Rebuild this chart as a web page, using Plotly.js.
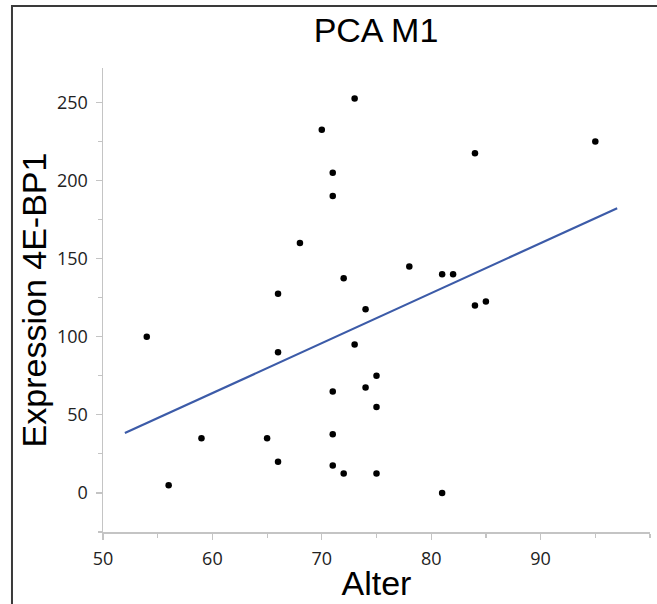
<!DOCTYPE html>
<html>
<head>
<meta charset="utf-8">
<script src="https://cdn.plot.ly/plotly-3.0.1.min.js"></script>
<style>html,body{margin:0;padding:0;background:#fff;}#chart{width:657px;height:604px;}</style>
</head>
<body>
<div id="chart"></div>
<script>
// Data
const alter = [54, 56, 59, 65, 66, 66, 66, 68, 70, 71, 71, 71, 71, 71, 72, 72, 73, 73, 74, 74, 75, 75, 75, 78, 81, 81, 82, 84, 84, 85, 95];
const expression = [100, 5, 35, 35, 127.5, 90, 20, 160, 232.5, 205, 190, 65, 37.5, 17.5, 137.5, 12.5, 252.5, 95, 117.5, 67.5, 75, 55, 12.5, 145, 140, 0, 140, 120, 217.5, 122.5, 225];
const fitX = [52, 97];
const fitY = [38.3, 182.3];
const xTicks = [50, 60, 70, 80, 90];
const yTicks = [0, 50, 100, 150, 200, 250];

const traces = [
  {x: fitX, y: fitY, type: 'scatter', mode: 'lines', line: {color: '#3c5ba8', width: 2.2}, hoverinfo: 'skip', showlegend: false},
  {x: alter, y: expression, type: 'scatter', mode: 'markers', marker: {color: '#000000', size: 6.5}, showlegend: false}
];

const axisCommon = {
  showgrid: false, zeroline: false, showline: true,
  linecolor: '#c4c4c4', linewidth: 1.5,
  ticks: 'outside', tickcolor: '#c4c4c4', tickwidth: 1.2, ticklen: 6,
  tickfont: {family: '"Open Sans", sans-serif', size: 18, color: '#222'},
  ticklabelstandoff: 4,
  minor: {ticks: 'outside', ticklen: 4, tickcolor: '#c4c4c4', tickwidth: 1.2}
};

const layout = {
  width: 657, height: 604,
  margin: {l: 103, r: 7, t: 68, b: 72},
  paper_bgcolor: '#ffffff', plot_bgcolor: '#ffffff',
  title: {text: 'PCA M1', font: {family: '"Liberation Sans", Arial, sans-serif', size: 34, color: '#000'}, x: 0.5723, xanchor: 'center', y: 0.95, yanchor: 'middle'},
  xaxis: Object.assign({}, axisCommon, {
    range: [50, 100], tickvals: xTicks, ticktext: xTicks.map(String),
    minor: Object.assign({}, axisCommon.minor, {dtick: 5, tick0: 50}),
    title: {text: 'Alter', font: {family: '"Liberation Sans", Arial, sans-serif', size: 34, color: '#000'}, standoff: 2}
  }),
  yaxis: Object.assign({}, axisCommon, {
    range: [-25, 272], tickvals: yTicks, ticktext: yTicks.map(String),
    minor: Object.assign({}, axisCommon.minor, {dtick: 25, tick0: 0}),
    title: {text: 'Expression 4E-BP1', font: {family: '"Liberation Sans", Arial, sans-serif', size: 34, color: '#000'}, standoff: 0}
  }),
  shapes: [{
    type: 'path', xref: 'paper', yref: 'paper',
    path: 'M -0.1664 -0.2 L -0.1664 1.1336 L 1.1 1.1336',
    line: {color: '#3a3a3a', width: 2}
  }]
};

Plotly.newPlot('chart', traces, layout, {displayModeBar: false, staticPlot: true});
</script>
</body>
</html>
